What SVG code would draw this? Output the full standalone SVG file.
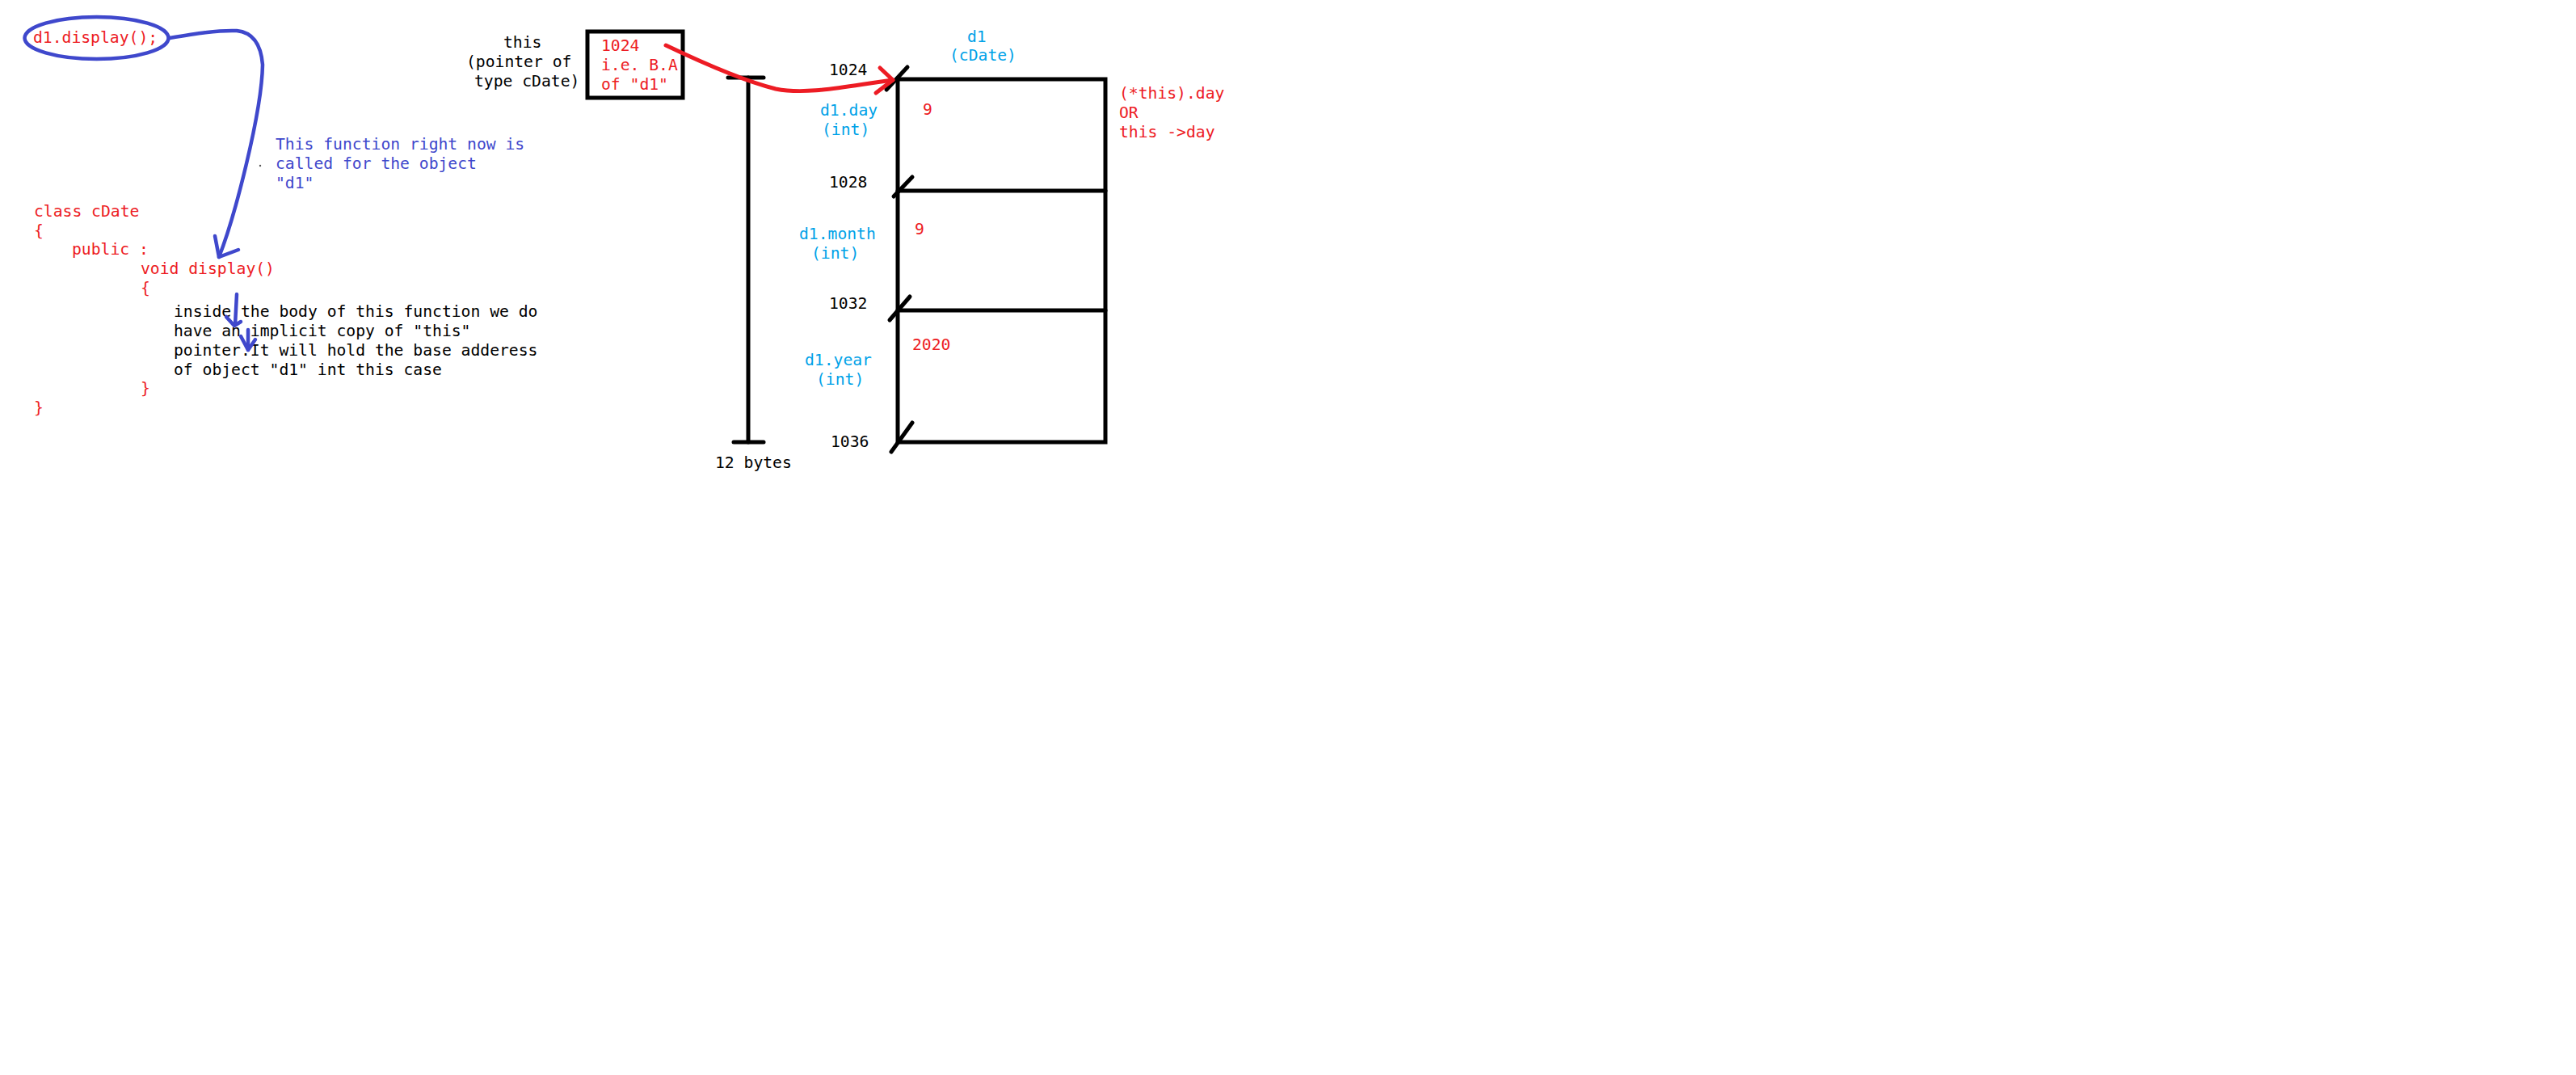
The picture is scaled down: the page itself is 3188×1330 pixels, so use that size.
<svg xmlns="http://www.w3.org/2000/svg" width="3188" height="1330" viewBox="0 0 3188 1330">
<style>
text{font-family:"DejaVu Sans Mono","Liberation Mono",monospace;font-size:19.7px;white-space:pre}
.r{fill:#ed1c24}.b{fill:#3f48cc}.k{fill:#000}.lb{fill:#00a2e8}
.sk{fill:none;stroke:#000;stroke-width:5;stroke-linecap:round}
.sb{fill:none;stroke:#3f48cc;stroke-width:4.5;stroke-linecap:round;stroke-linejoin:round}
.sr{fill:none;stroke:#ed1c24;stroke-width:5;stroke-linecap:round;stroke-linejoin:round}
</style>
<rect width="3188" height="1330" fill="#fff"/>
<g id="call">
<ellipse cx="119.5" cy="47" rx="89" ry="26" class="sb"/>
<text x="41" y="53" class="r">d1.display();</text>
</g>
<g id="note">
<text x="341" y="185" class="b">This function right now is</text>
<text x="341" y="209" class="b">called for the object</text>
<text x="341" y="233" class="b">"d1"</text>
<circle cx="322" cy="205" r="1.2" fill="#555"/>
</g>
<g id="code">
<text x="42" y="268" class="r">class cDate</text>
<text x="42" y="292" class="r">{</text>
<text x="89" y="315" class="r">public :</text>
<text x="174" y="339" class="r">void display()</text>
<text x="174" y="363" class="r">{</text>
<text x="215" y="392" class="k">inside the body of this function we do</text>
<text x="215" y="416" class="k">have an implicit copy of "this"</text>
<text x="215" y="440" class="k">pointer.It will hold the base adderess</text>
<text x="215" y="464" class="k">of object "d1" int this case</text>
<text x="174" y="487" class="r">}</text>
<text x="42" y="511" class="r">}</text>
</g>
<g id="thisPointer">
<text x="623" y="59" class="k">this</text>
<text x="577" y="83" class="k">(pointer of</text>
<text x="587" y="107" class="k">type cDate)</text>
<rect x="727" y="39" width="118" height="82" class="sk" stroke-linecap="butt"/>
<text x="744" y="63" class="r">1024</text>
<text x="744" y="87" class="r">i.e. B.A</text>
<text x="744" y="111" class="r">of "d1"</text>
</g>
<g id="sizeAxis">
<line x1="901" y1="96" x2="945" y2="96" class="sk"/>
<line x1="926" y1="96" x2="926" y2="547" class="sk" stroke-linecap="butt"/>
<line x1="908" y1="547" x2="945" y2="547" class="sk"/>
<text x="885" y="579" class="k">12 bytes</text>
</g>
<g id="d1">
<text x="1197" y="52" class="lb">d1</text>
<text x="1175" y="75" class="lb">(cDate)</text>
<rect x="1111" y="98" width="257" height="449" class="sk" stroke-linecap="butt"/>
<line x1="1111" y1="236" x2="1368" y2="236" class="sk" stroke-linecap="butt"/>
<line x1="1111" y1="384" x2="1368" y2="384" class="sk" stroke-linecap="butt"/>
<line x1="1097" y1="111" x2="1123" y2="83" class="sk"/>
<line x1="1106" y1="243" x2="1129" y2="219" class="sk"/>
<line x1="1101" y1="396" x2="1126" y2="367" class="sk"/>
<line x1="1103" y1="559" x2="1129" y2="523" class="sk"/>
<text x="1026" y="93" class="k">1024</text>
<text x="1026" y="232" class="k">1028</text>
<text x="1026" y="382" class="k">1032</text>
<text x="1028" y="553" class="k">1036</text>
<text x="1015" y="143" class="lb">d1.day</text>
<text x="1017" y="167" class="lb">(int)</text>
<text x="989" y="296" class="lb">d1.month</text>
<text x="1004" y="320" class="lb">(int)</text>
<text x="996" y="452" class="lb">d1.year</text>
<text x="1010" y="476" class="lb">(int)</text>
<text x="1142" y="142" class="r">9</text>
<text x="1132" y="290" class="r">9</text>
<text x="1129" y="433" class="r">2020</text>
<text x="1385" y="122" class="r">(*this).day</text>
<text x="1385" y="146" class="r">OR</text>
<text x="1385" y="170" class="r">this -&gt;day</text>
</g>
<g id="connectors">
<path d="M210,47 C240,42 270,37 293,38 C313,40 323,55 325,80 C324,140 290,270 271,318" class="sb"/>
<polyline points="266,292 271,318 295,309" class="sb"/>
<line x1="293" y1="364" x2="291" y2="402" class="sb"/>
<polyline points="280,392 290,403 298,398" class="sb"/>
<line x1="307" y1="408" x2="307" y2="433" class="sb"/>
<polyline points="298,416 307,433 316,420" class="sb"/>
<path d="M824,56 C870,78 920,100 960,110 C1000,118 1050,106 1105,99" class="sr"/>
<polyline points="1089,84 1105,99 1084,115" class="sr"/>
</g>
</svg>
